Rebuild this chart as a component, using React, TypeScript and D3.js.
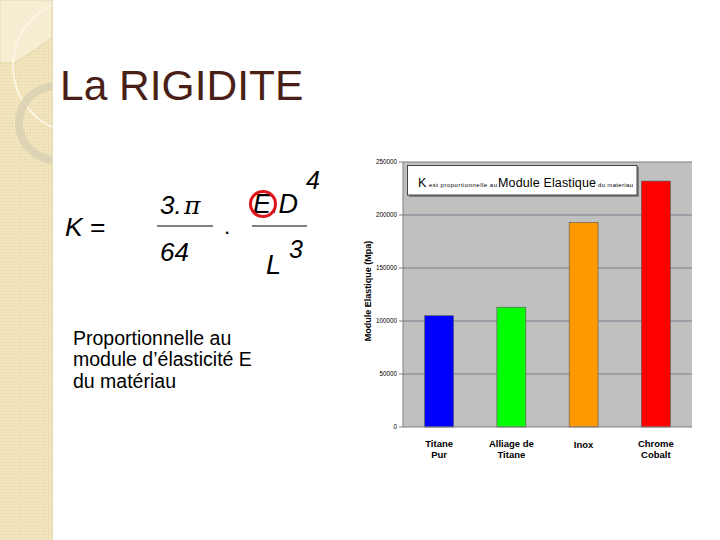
import React from "react";
import * as d3 from "d3";

const categories = ["Titane\nPur", "Alliage de\nTitane", "Inox", "Chrome\nCobalt"];
const values = [105000, 113000, 193000, 232000];
const barColors = ["#0000ff", "#00ff00", "#ff9900", "#ff0000"];
const yTicks = [0, 50000, 100000, 150000, 200000, 250000];
const yAxisTitle = "Module Elastique (Mpa)";
const bodyLines = ["Proportionnelle au", "module d\u2019élasticité E", "du matériau"];

const FONT = "'Liberation Sans', Arial, Helvetica, sans-serif";

export default function App() {
  const left = 403, right = 692, top = 162, bottom = 427;
  const x = d3.scaleBand<string>().domain(categories).range([left, right]).paddingInner(0.6).paddingOuter(0.3);
  const y = d3.scaleLinear().domain([0, 250000]).range([bottom, top]);

  return (
    <svg width={720} height={540} style={{ position: "fixed", left: 0, top: 0, display: "block", background: "#fff" }}>
      <defs>
        <pattern id="dots" width="3" height="3" patternUnits="userSpaceOnUse">
          <rect width="3" height="3" fill="#f1e3b9" />
          <rect width="1" height="1" fill="#e6d6a8" />
          <rect x="1.5" y="1.5" width="1" height="1" fill="#f6ebc9" />
        </pattern>
        <clipPath id="strip"><rect x="0" y="0" width="52" height="540" /></clipPath>
      </defs>
      {/* left decorative strip */}
      <rect x={0} y={0} width={52} height={540} fill="url(#dots)" />
      <g clipPath="url(#strip)">
        <path d="M0,0 H52 V38 Q36,50 14,63 H0 Z" fill="#f6edd2" stroke="#d9c99c" strokeWidth={0.6} />
        <circle cx={80} cy={66} r={67} fill="none" stroke="#fbf6e6" strokeWidth={1.8} />
        <circle cx={56} cy={123} r={37} fill="none" stroke="#d9d0b4" strokeWidth={8} opacity={0.85} />
      </g>
      <line x1={52.5} y1={0} x2={52.5} y2={540} stroke="#e8dcb8" strokeWidth={1} />

      {/* title */}
      <text x={60} y={100} fontFamily={FONT} fontSize={42.5} fill="#4a1f17">La RIGIDITE</text>

      {/* formula */}
      <g fontFamily={FONT} fill="#000">
        <text x={65} y={236} fontSize={26.5} fontStyle="italic">K</text>
        <text x={90} y={236} fontSize={26.5}>=</text>
        <text x={160} y={214} fontSize={26} fontStyle="italic">3.</text>
        <text x={184} y={214} fontSize={25} fontStyle="italic" fontFamily="'DejaVu Serif', serif">π</text>
        <line x1={157} y1={226} x2={213} y2={226} stroke="#000" strokeWidth={1} />
        <text x={160} y={261} fontSize={26} fontStyle="italic">64</text>
        <text x={224} y={234} fontSize={22}>.</text>
        <text x={253} y={213} fontSize={27} fontStyle="italic">E.D</text>
        <text x={306} y={189} fontSize={25} fontStyle="italic">4</text>
        <line x1={252} y1={226} x2={307} y2={226} stroke="#000" strokeWidth={1} />
        <text x={266} y={274} fontSize={27} fontStyle="italic">L</text>
        <text x={289} y={258} fontSize={25} fontStyle="italic">3</text>
        <circle cx={263} cy={204} r={12.5} fill="none" stroke="#e0141a" strokeWidth={3} />
      </g>

      {/* body text */}
      <text fontFamily={FONT} fontSize={19.5} fill="#000">
        {bodyLines.map((l, i) => (
          <tspan key={i} x={73} y={345 + i * 21.3}>{l}</tspan>
        ))}
      </text>

      {/* chart */}
      <rect x={left} y={top} width={right - left} height={bottom - top} fill="#c0c0c0" />
      {yTicks.map((t) => (
        <g key={t}>
          {t > 0 && <line x1={left} x2={right} y1={y(t)} y2={y(t)} stroke="#7c7c8c" strokeWidth={1} />}
          <line x1={left - 4} x2={left} y1={y(t)} y2={y(t)} stroke="#808080" strokeWidth={1} />
          <text x={left - 6} y={y(t) + 2.2} fontFamily={FONT} fontSize={6.3} textAnchor="end" fill="#000">{t}</text>
        </g>
      ))}
      {categories.map((c, i) => (
        <rect key={c} x={x(c)} y={y(values[i])} width={x.bandwidth()} height={y(0) - y(values[i])}
          fill={barColors[i]} stroke="#555" strokeWidth={0.6} />
      ))}
      <line x1={left} x2={left} y1={top} y2={bottom} stroke="#808080" strokeWidth={1} />
      <line x1={left} x2={right} y1={bottom} y2={bottom} stroke="#808080" strokeWidth={1} />

      {/* category labels */}
      {categories.map((c) => {
        const lines = c.split("\n");
        const cx = (x(c) as number) + x.bandwidth() / 2;
        const y0 = lines.length === 1 ? 448 : 447;
        return (
          <text key={c} fontFamily={FONT} fontSize={9.5} fontWeight="bold" textAnchor="middle" fill="#000">
            {lines.map((l, j) => (
              <tspan key={j} x={cx} y={y0 + j * 11}>{l}</tspan>
            ))}
          </text>
        );
      })}

      {/* y axis title */}
      <text transform={`translate(371,291) rotate(-90)`} fontFamily={FONT} fontSize={9} fontWeight="bold" textAnchor="middle" fill="#000">
        {yAxisTitle}
      </text>

      {/* legend box */}
      <rect x={409} y={167} width={230} height={30} fill="#808080" />
      <rect x={407.5} y={165.5} width={229.5} height={29.5} fill="#fff" stroke="#444" strokeWidth={1} />
      <text y={187} fontFamily={FONT} fill="#000">
        <tspan x={418} fontSize={12.5}>K</tspan>
        <tspan x={429} fontSize={6} textLength={68}>est proportionnelle au</tspan>
        <tspan x={498} fontSize={12.5} textLength={98}>Module Elastique</tspan>
        <tspan x={598} fontSize={6} textLength={35}>du materiau</tspan>
      </text>
    </svg>
  );
}
